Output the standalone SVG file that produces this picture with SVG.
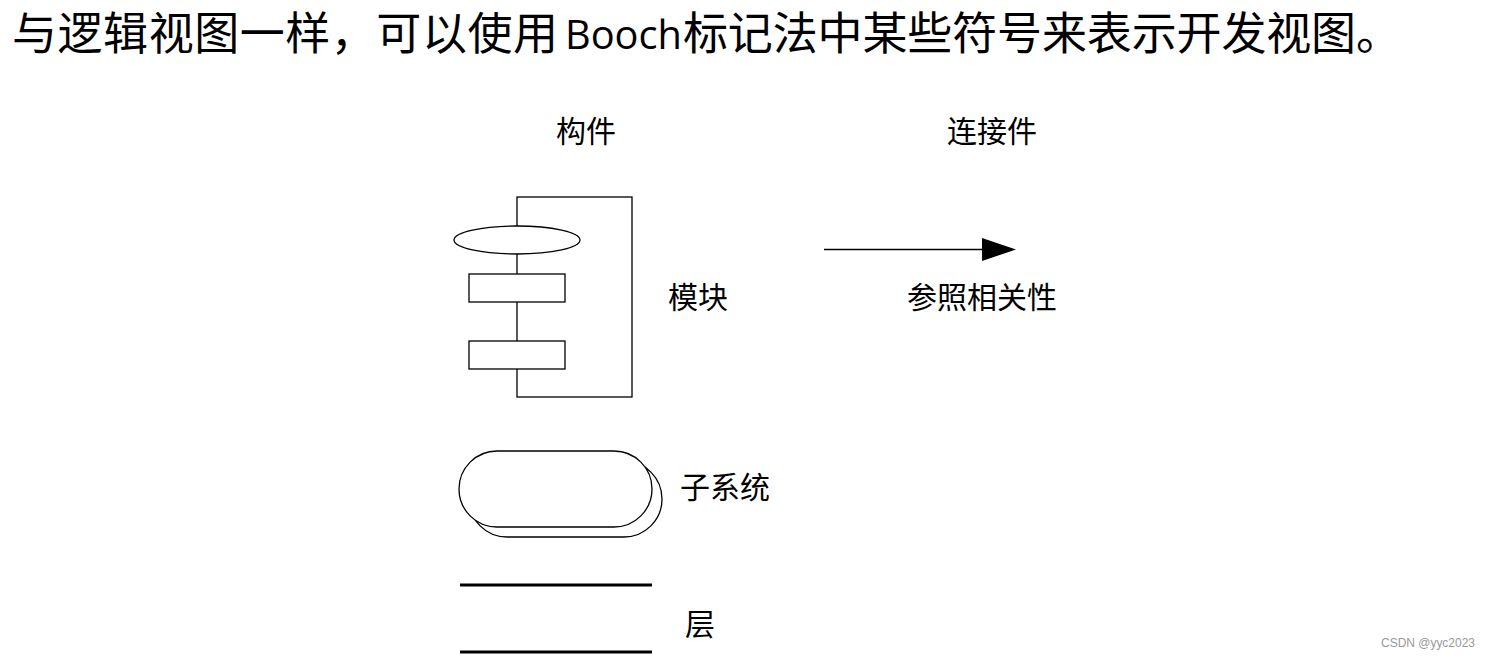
<svg xmlns="http://www.w3.org/2000/svg" width="1491" height="659" viewBox="0 0 1491 659">
<style>
.t{font-family:"Noto Sans CJK SC","Noto Sans",sans-serif;font-size:45px;fill:#000}
.lbl{font-family:"Noto Sans CJK SC","Liberation Serif",sans-serif;font-size:30px;fill:#000}
.s{fill:#fff;stroke:#000;stroke-width:1.3}
.ln{fill:none;stroke:#000;stroke-width:1.3}
.lay{stroke:#000;stroke-width:3}
</style>
<defs>
<marker id="ah" markerWidth="34" markerHeight="23" refX="0" refY="11.5" orient="auto" markerUnits="userSpaceOnUse">
<path d="M0,0 L34,11.5 L0,23 Z" fill="#000"/>
</marker>
</defs>
<rect width="1491" height="659" fill="#fff"/>
<text class="t" x="12" y="50" textLength="546" lengthAdjust="spacing">与逻辑视图一样，可以使用</text>
<text x="565" y="49" font-family="Open Sans,Liberation Sans,sans-serif" font-size="40" textLength="117" lengthAdjust="spacingAndGlyphs">Booch</text>
<text class="t" x="683" y="50" textLength="718" lengthAdjust="spacing">标记法中某些符号来表示开发视图。</text>
<text class="lbl" x="556" y="142">构件</text>
<text class="lbl" x="947" y="142">连接件</text>
<g id="module">
<rect class="ln" x="517" y="197" width="115" height="200"/>
<ellipse class="s" cx="517" cy="240" rx="63" ry="14"/>
<rect class="s" x="469" y="274" width="96" height="28"/>
<rect class="s" x="469" y="341" width="96" height="28"/>
<text class="lbl" x="668" y="308">模块</text>
</g>
<g id="subsystem">
<rect class="s" x="469" y="461" width="193" height="76" rx="38"/>
<rect class="s" x="459" y="451" width="193" height="76" rx="38"/>
<text class="lbl" x="680" y="498">子系统</text>
</g>
<g id="layer">
<line class="lay" x1="460" y1="585" x2="652" y2="585"/>
<line class="lay" x1="460" y1="652" x2="652" y2="652"/>
<text class="lbl" x="685" y="635">层</text>
</g>
<g id="connectors">
<line class="ln" x1="824" y1="249.5" x2="982" y2="249.5" marker-end="url(#ah)"/>
<text class="lbl" x="907" y="308">参照相关性</text>
</g>
<text x="1381" y="647" font-family="Liberation Sans,sans-serif" font-size="12" textLength="94" fill="#999">CSDN @yyc2023</text>
</svg>
